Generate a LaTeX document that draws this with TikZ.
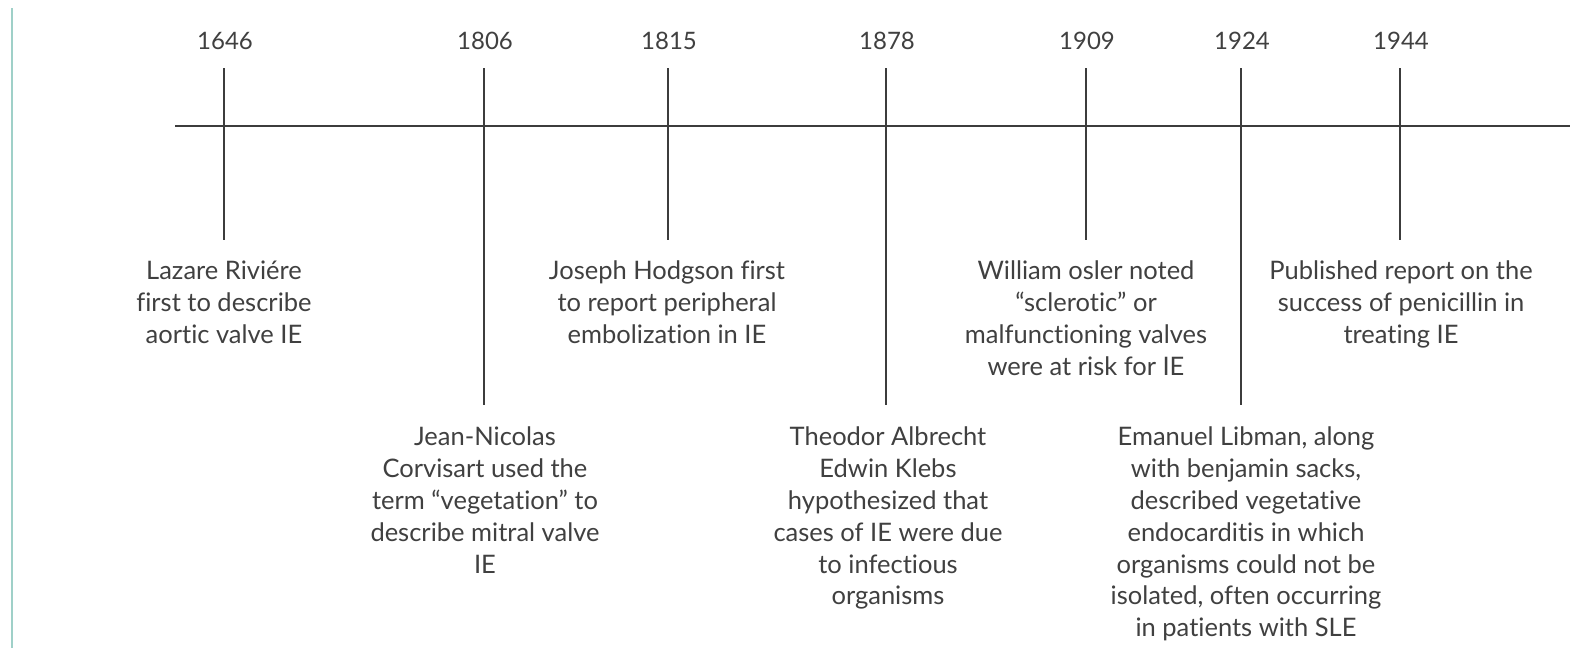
\documentclass[tikz,border=0pt]{standalone}
\usepackage{fontspec}
\setmainfont{Lato}[Ligatures=NoCommon]
\definecolor{linegray}{HTML}{3C3C3C}
\definecolor{textgray}{HTML}{404040}
\definecolor{tealline}{HTML}{9FD0C8}
\begin{document}
\begin{tikzpicture}[x=1pt,y=-1pt,
  yearlbl/.style={font=\fontsize{24}{30}\selectfont, text=textgray, inner sep=0pt, anchor=center},
  evt/.style={font=\fontsize{25.5}{31.8}\selectfont, text=textgray, align=center, inner sep=0pt, anchor=north},
  tick/.style={draw=linegray, line width=1.7pt},
  axisline/.style={draw=linegray, line width=1.7pt}]
\useasboundingbox (0,0) rectangle (1570,648);
\fill[white] (0,0) rectangle (1570,648);
% left rule
\coordinate (ruleA) at (11.5,8);
\coordinate (ruleB) at (11.5,648);
\draw[tealline, line width=2pt] (ruleA) -- (ruleB);
% axis
\coordinate (axA) at (175,126);
\coordinate (axB) at (1570,126);
\draw[axisline] (axA) -- (axB);
% years
\node[yearlbl] (y1646) at (225,41) {1646};
\node[yearlbl] (y1806) at (485,41) {1806};
\node[yearlbl] (y1815) at (669,41) {1815};
\node[yearlbl] (y1878) at (887,41) {1878};
\node[yearlbl] (y1909) at (1087,41) {1909};
\node[yearlbl] (y1924) at (1242,41) {1924};
\node[yearlbl] (y1944) at (1401,41) {1944};
% tick coordinates
\coordinate (t1a) at (224,68);  \coordinate (t1b) at (224,240);
\coordinate (t2a) at (484,68);  \coordinate (t2b) at (484,405);
\coordinate (t3a) at (668,68);  \coordinate (t3b) at (668,240);
\coordinate (t4a) at (886,68);  \coordinate (t4b) at (886,405);
\coordinate (t5a) at (1086,68); \coordinate (t5b) at (1086,240);
\coordinate (t6a) at (1241,68); \coordinate (t6b) at (1241,405);
\coordinate (t7a) at (1400,68); \coordinate (t7b) at (1400,240);
\foreach \i in {1,...,7} {\draw[tick] (t\i a) -- (t\i b);}
% events
\node[evt] (e1646) at (224,261) {Lazare Riviére\\first to describe\\aortic valve IE};
\node[evt] (e1806) at (485,427) {Jean-Nicolas\\Corvisart used the\\term “vegetation” to\\describe mitral valve\\IE};
\node[evt] (e1815) at (667,261) {Joseph Hodgson first\\to report peripheral\\embolization in IE};
\node[evt] (e1878) at (888,427) {Theodor Albrecht\\Edwin Klebs\\hypothesized that\\cases of IE were due\\to infectious\\organisms};
\node[evt] (e1909) at (1086,261) {William osler noted\\“sclerotic” or\\malfunctioning valves\\were at risk for IE};
\node[evt] (e1924) at (1246,427) {Emanuel Libman, along\\with benjamin sacks,\\described vegetative\\endocarditis in which\\organisms could not be\\isolated, often occurring\\in patients with SLE};
\node[evt] (e1944) at (1401,261) {Published report on the\\success of penicillin in\\treating IE};
\end{tikzpicture}
\end{document}
